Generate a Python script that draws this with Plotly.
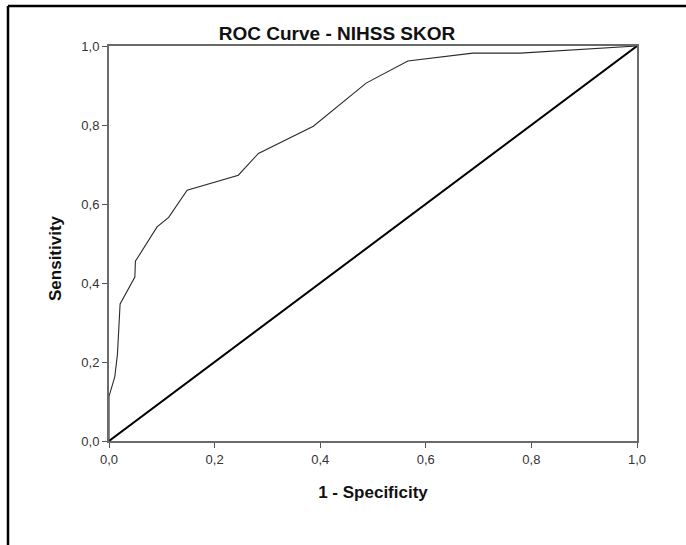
import plotly.graph_objects as go

# ROC curve points (1 - specificity, sensitivity)
fpr = [0.0, 0.0, 0.011, 0.016, 0.021, 0.049, 0.050, 0.091, 0.113, 0.148,
       0.245, 0.283, 0.387, 0.487, 0.566, 0.689, 0.779, 1.0]
tpr = [0.0, 0.113, 0.163, 0.220, 0.347, 0.415, 0.455, 0.542, 0.566, 0.635,
       0.673, 0.728, 0.797, 0.906, 0.962, 0.982, 0.982, 1.0]

ref_x = [0.0, 1.0]
ref_y = [0.0, 1.0]

tick_vals = [0.0, 0.2, 0.4, 0.6, 0.8, 1.0]

title_text = "ROC Curve - NIHSS SKOR"
x_title = "1 - Specificity"
y_title = "Sensitivity"

W, H = 686, 545
ml, mr, mt, mb = 109, 49, 46, 104
pw, ph = W - ml - mr, H - mt - mb

fig = go.Figure()
fig.add_trace(go.Scatter(x=ref_x, y=ref_y, mode="lines",
                         line=dict(color="#000000", width=2),
                         hoverinfo="skip", showlegend=False, cliponaxis=False))
fig.add_trace(go.Scatter(x=fpr, y=tpr, mode="lines",
                         line=dict(color="#2a2a2a", width=1.1),
                         showlegend=False, cliponaxis=False))

font_family = "Liberation Sans, Arial, sans-serif"
axis_common = dict(
    range=[0, 1], tickvals=tick_vals, tickformat=".1f",
    showgrid=False, zeroline=False,
    showline=True, linecolor="#6a6a6a", linewidth=2, mirror=True,
    ticks="outside", ticklen=5, tickwidth=1, tickcolor="#555555",
    tickfont=dict(family=font_family, size=13, color="#333333"),
    fixedrange=True,
)

fig.update_layout(
    width=W, height=H,
    margin=dict(l=ml, r=mr, t=mt, b=mb, pad=0),
    paper_bgcolor="white", plot_bgcolor="white",
    separators=",.",
    title=dict(text="<b>" + title_text + "</b>", x=337 / W, xanchor="center",
               y=1 - 33 / H, yanchor="middle", yref="container",
               font=dict(family=font_family, size=19, color="#111111")),
    xaxis=dict(**axis_common,
               title=dict(text="<b>" + x_title + "</b>", standoff=21,
                          font=dict(family=font_family, size=17, color="#111111"))),
    yaxis=dict(**axis_common),
    annotations=[
        dict(text="<b>" + y_title + "</b>", xref="paper", yref="paper",
             x=(55 - ml) / pw, y=(mt + ph - 258) / ph,
             xanchor="center", yanchor="middle", textangle=-90,
             showarrow=False,
             font=dict(family=font_family, size=17, color="#111111")),
    ],
    shapes=[
        dict(type="line", xref="paper", yref="paper",
             x0=(8 - ml) / pw, x1=(W - ml) / pw,
             y0=1 + (mt - 6) / ph, y1=1 + (mt - 6) / ph,
             line=dict(color="black", width=2.5)),
        dict(type="line", xref="paper", yref="paper",
             x0=(8 - ml) / pw, x1=(8 - ml) / pw,
             y0=1 + (mt - 6) / ph, y1=-(mb + 2) / ph,
             line=dict(color="black", width=2.5)),
    ],
)

fig.write_html("out.html")
